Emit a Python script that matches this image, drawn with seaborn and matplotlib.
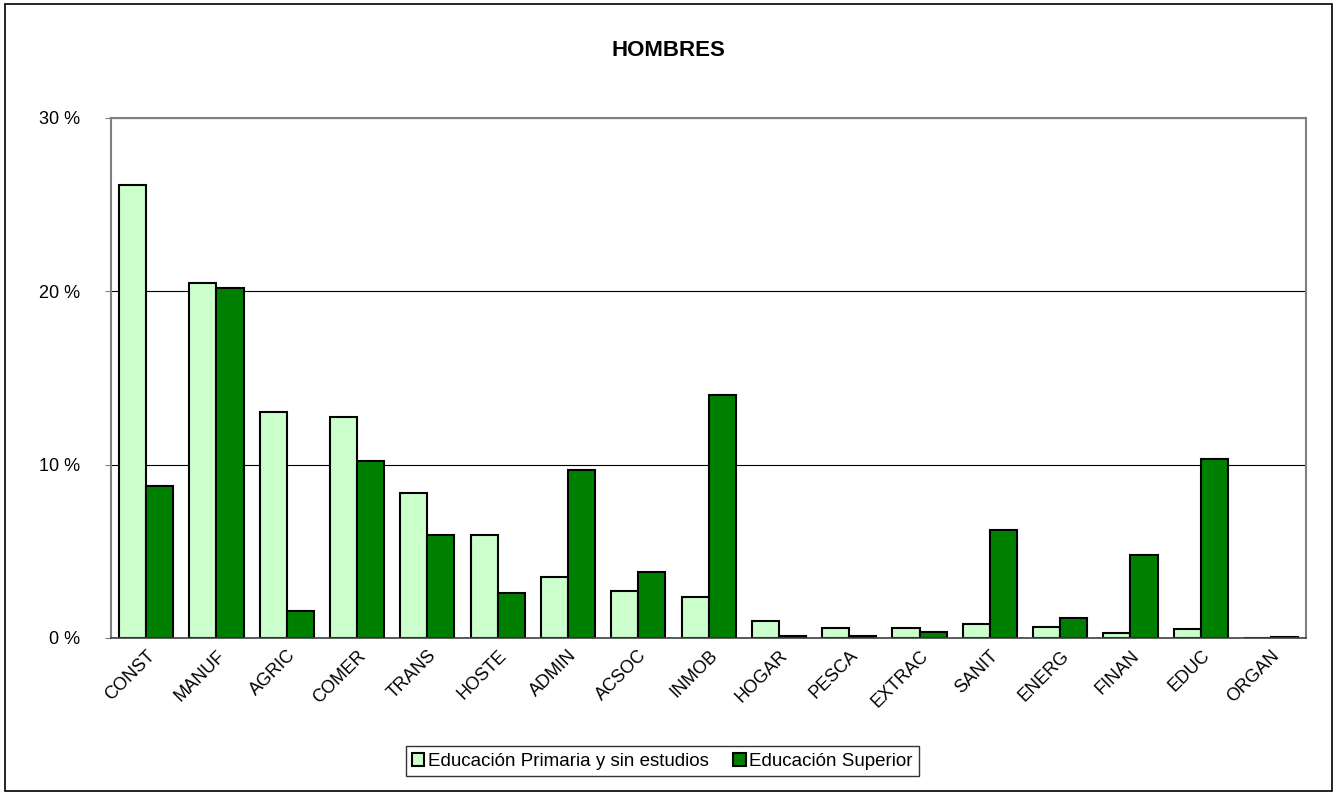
import matplotlib
matplotlib.use("Agg")
import matplotlib.pyplot as plt
import matplotlib.patches as mpatches
import numpy as np
import pandas as pd
import seaborn as sns

# Data
sectores = ["CONST", "MANUF", "AGRIC", "COMER", "TRANS", "HOSTE", "ADMIN", "ACSOC",
            "INMOB", "HOGAR", "PESCA", "EXTRAC", "SANIT", "ENERG", "FINAN", "EDUC", "ORGAN"]
primaria = [26.1, 20.5, 13.05, 12.76, 8.37, 5.95, 3.54, 2.72, 2.37, 0.97, 0.56, 0.6,
            0.82, 0.64, 0.31, 0.51, 0.0]
superior = [8.74, 20.2, 1.54, 10.23, 5.95, 2.59, 9.69, 3.81, 13.99, 0.14, 0.12, 0.35,
            6.21, 1.17, 4.81, 10.35, 0.03]
series = ["Educación Primaria y sin estudios", "Educación Superior"]
colores = ["#CCFFCC", "#008000"]

df = pd.DataFrame({
    "sector": sectores * 2,
    "valor": primaria + superior,
    "serie": [series[0]] * len(sectores) + [series[1]] * len(sectores),
})

sns.set_style("white")
plt.rcParams["font.family"] = ["Liberation Sans", "DejaVu Sans"]
plt.rcParams["text.color"] = "black"
plt.rcParams["xtick.color"] = "black"
plt.rcParams["ytick.color"] = "black"

fig = plt.figure(figsize=(13.37, 7.96), dpi=100)
ax = fig.add_axes([0.083, 0.1985, 0.894, 0.6535])

sns.barplot(data=df, x="sector", y="valor", hue="serie", palette=colores, saturation=1,
            width=0.77, edgecolor="black", linewidth=1.5, ax=ax, legend=False)

ax.set_ylim(0, 30)
ax.set_xlim(-0.5, len(sectores) - 0.5)
ax.set_yticks([0, 10, 20, 30])
ax.set_yticklabels(["0 %", "10 %", "20 %", "30 %"], fontsize=13)
ax.yaxis.grid(True, color="black", linewidth=0.8)
ax.set_axisbelow(True)
ax.tick_params(axis="y", left=True, length=4, color="#808080", pad=18)
ax.tick_params(axis="x", bottom=False, pad=3)
plt.setp(ax.get_xticklabels(), rotation=45, ha="right", rotation_mode="anchor",
         fontsize=13)
ax.set_xlabel("")
ax.set_ylabel("")

for s in ["top", "right", "left"]:
    ax.spines[s].set_visible(True)
    ax.spines[s].set_color("#808080")
    ax.spines[s].set_linewidth(1.5)
ax.spines["bottom"].set_color("#404040")
ax.spines["bottom"].set_linewidth(1.2)

fig.text(0.5, 0.937, "HOMBRES", ha="center", va="center", fontsize=16, fontweight="bold")

handles = [mpatches.Patch(facecolor=c, edgecolor="black", linewidth=1.5, label=l)
           for c, l in zip(colores, series)]
leg = fig.legend(handles=handles, loc="center", bbox_to_anchor=(0.4955, 0.0435), ncol=2,
                 frameon=True, fancybox=False, fontsize=13.5, handlelength=0.65,
                 handleheight=0.65, handletextpad=0.2, columnspacing=1.3,
                 borderpad=0.35, borderaxespad=0)
leg.get_frame().set_edgecolor("black")
leg.get_frame().set_linewidth(1.0)

# outer border around the chart
fig.patches.append(mpatches.Rectangle((0.004, 0.006), 0.992, 0.989, transform=fig.transFigure,
                                      fill=False, edgecolor="black", linewidth=1.2))

fig.savefig("out.png", dpi=100)
